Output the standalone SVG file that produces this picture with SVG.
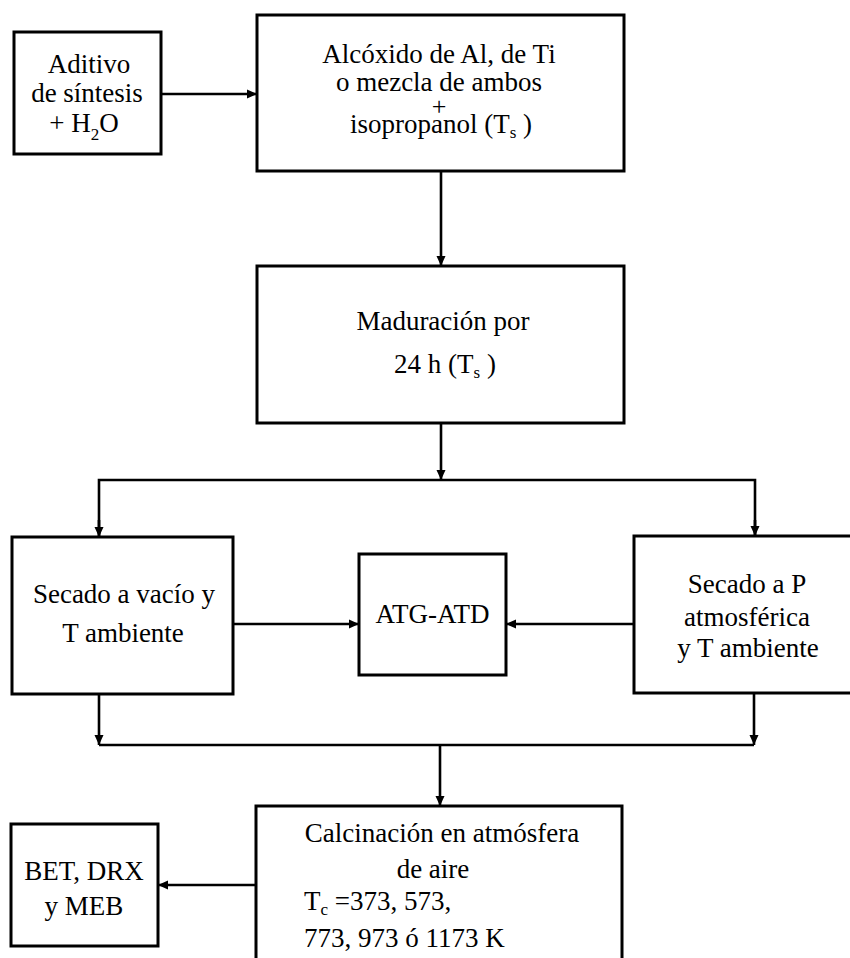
<svg xmlns="http://www.w3.org/2000/svg" width="850" height="958" viewBox="0 0 850 958">
<style>
.box{fill:#fff;stroke:#000;stroke-width:3}
.ln{fill:none;stroke:#000;stroke-width:2.6}
text{font-family:'Liberation Serif','DejaVu Serif','Times New Roman',serif;font-size:27px;fill:#000}
.t{text-anchor:middle}
.tl{text-anchor:start}
.sub{font-size:17px}
</style>
<defs>
<marker id="ah" markerUnits="userSpaceOnUse" markerWidth="10" markerHeight="10" viewBox="0 0 10 10" refX="10" refY="5" orient="auto">
<path d="M0,0.5 L10,5 L0,9.5 Z" fill="#000"/>
</marker>
</defs>
<rect width="850" height="958" fill="#fff"/>
<g id="connectors">
<line class="ln" x1="161" y1="94" x2="257" y2="94" marker-end="url(#ah)"/>
<line class="ln" x1="441" y1="171" x2="441" y2="266" marker-end="url(#ah)"/>
<line class="ln" x1="441" y1="423" x2="441" y2="480" marker-end="url(#ah)"/>
<polyline class="ln" points="99,537 99,480 755,480 755,536"/>
<line class="ln" x1="99" y1="520" x2="99" y2="537" marker-end="url(#ah)"/>
<line class="ln" x1="755" y1="520" x2="755" y2="536" marker-end="url(#ah)"/>
<line class="ln" x1="233" y1="624" x2="359" y2="624" marker-end="url(#ah)"/>
<line class="ln" x1="634" y1="624" x2="506" y2="624" marker-end="url(#ah)"/>
<line class="ln" x1="99" y1="694" x2="99" y2="745" marker-end="url(#ah)"/>
<line class="ln" x1="754" y1="694" x2="754" y2="745" marker-end="url(#ah)"/>
<line class="ln" x1="99" y1="745" x2="754" y2="745"/>
<line class="ln" x1="440" y1="745" x2="440" y2="806" marker-end="url(#ah)"/>
<line class="ln" x1="256" y1="885" x2="158" y2="885" marker-end="url(#ah)"/>
</g>
<g id="aditivo">
<rect class="box" x="14" y="32" width="147" height="122"/>
<text class="t" x="89" y="73">Aditivo</text>
<text class="t" x="87" y="102">de síntesis</text>
<text class="t" x="84" y="132">+ H<tspan class="sub" dy="8">2</tspan><tspan dy="-8">O</tspan></text>
</g>
<g id="alcoxido">
<rect class="box" x="257" y="15" width="367" height="156"/>
<text class="t" x="439" y="63">Alcóxido de Al, de Ti</text>
<text class="t" x="439" y="91">o mezcla de ambos</text>
<text class="t" x="439" y="115" style="font-size:26px">+</text>
<text class="t" x="441" y="133">isopropanol (T<tspan class="sub" dy="5">s</tspan><tspan dy="-5"> )</tspan></text>
</g>
<g id="maduracion">
<rect class="box" x="257" y="266" width="367" height="157"/>
<text class="t" x="443" y="330">Maduración por</text>
<text class="t" x="445" y="373">24 h  (T<tspan class="sub" dy="5">s</tspan><tspan dy="-5"> )</tspan></text>
</g>
<g id="secado-vacio">
<rect class="box" x="12" y="537" width="221" height="157"/>
<text class="t" x="124" y="603">Secado a vacío y</text>
<text class="t" x="123" y="642">T ambiente</text>
</g>
<g id="atg-atd">
<rect class="box" x="359" y="554" width="147" height="121"/>
<text class="t" x="432.5" y="623">ATG-ATD</text>
</g>
<g id="secado-p">
<rect class="box" x="634" y="536" width="230" height="157"/>
<text class="t" x="747" y="593">Secado a P</text>
<text class="t" x="747" y="626">atmosférica</text>
<text class="t" x="748" y="657">y T ambiente</text>
</g>
<g id="calcinacion">
<rect class="box" x="256" y="806" width="366" height="170"/>
<text class="t" x="442" y="842">Calcinación en atmósfera</text>
<text class="t" x="433" y="878">de aire</text>
<text class="tl" x="304" y="910">T<tspan class="sub" dy="5">c</tspan><tspan dy="-5"> =373, 573,</tspan></text>
<text class="tl" x="304" y="947">773, 973 ó 1173 K</text>
</g>
<g id="bet">
<rect class="box" x="11" y="824" width="147" height="122"/>
<text class="t" x="84" y="880">BET, DRX</text>
<text class="t" x="84" y="915">y MEB</text>
</g>
</svg>
